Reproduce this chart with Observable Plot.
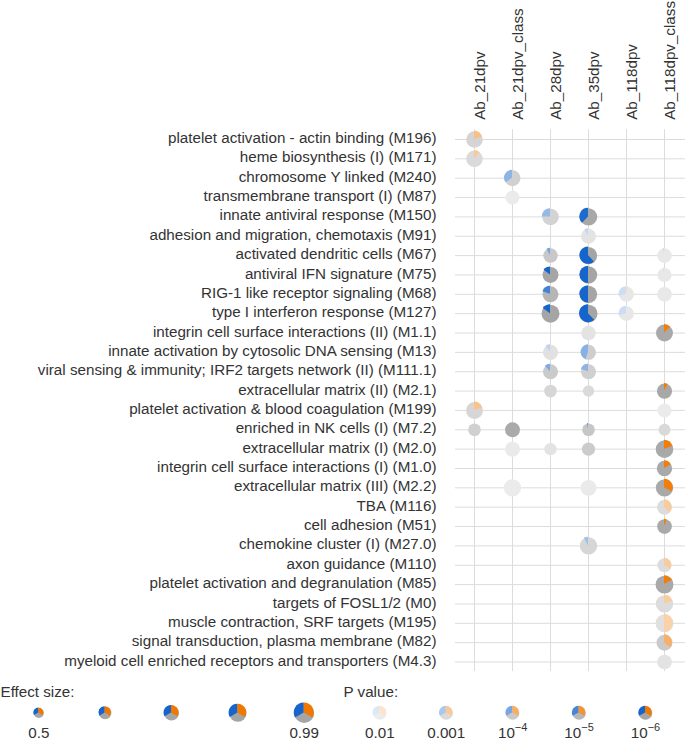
<!DOCTYPE html>
<html><head><meta charset="utf-8">
<script src="https://cdn.jsdelivr.net/npm/d3@7"></script>
<script src="https://cdn.jsdelivr.net/npm/@observablehq/plot@0.6"></script>
<style>
body{margin:0;background:#fff;font-family:"Liberation Sans",Arial,sans-serif;}
#legend{display:flex;flex-direction:row;}
</style></head><body>
<div id="chart"></div>
<div id="legend"></div>
<script>
const moduleIds = ["M196","M171","M240","M87","M150","M91","M67","M75","M68","M127","M1.1","M13","M111.1","M2.1","M199","M7.2","M2.0","M1.0","M2.2","M116","M51","M27.0","M110","M85","M0","M195","M82","M4.3"];
const moduleTitles = [
  "platelet activation - actin binding (M196)",
  "heme biosynthesis (I) (M171)",
  "chromosome Y linked (M240)",
  "transmembrane transport (I) (M87)",
  "innate antiviral response (M150)",
  "adhesion and migration, chemotaxis (M91)",
  "activated dendritic cells (M67)",
  "antiviral IFN signature (M75)",
  "RIG-1 like receptor signaling (M68)",
  "type I interferon response (M127)",
  "integrin cell surface interactions (II) (M1.1)",
  "innate activation by cytosolic DNA sensing (M13)",
  "viral sensing & immunity; IRF2 targets network (II) (M111.1)",
  "extracellular matrix (II) (M2.1)",
  "platelet activation & blood coagulation (M199)",
  "enriched in NK cells (I) (M7.2)",
  "extracellular matrix (I) (M2.0)",
  "integrin cell surface interactions (I) (M1.0)",
  "extracellular matrix (III) (M2.2)",
  "TBA (M116)",
  "cell adhesion (M51)",
  "chemokine cluster (I) (M27.0)",
  "axon guidance (M110)",
  "platelet activation and degranulation (M85)",
  "targets of FOSL1/2 (M0)",
  "muscle contraction, SRF targets (M195)",
  "signal transduction, plasma membrane (M82)",
  "myeloid cell enriched receptors and transporters (M4.3)"
];
const contrasts = ["Ab_21dpv","Ab_21dpv_class","Ab_28dpv","Ab_35dpv","Ab_118dpv","Ab_118dpv_class"];

// one entry per pie
const cellModule = ["M196","M171","M240","M87","M150","M150","M91","M67","M67","M67","M75","M75","M75","M68","M68","M68","M68","M127","M127","M127","M1.1","M1.1","M13","M13","M111.1","M111.1","M2.1","M2.1","M2.1","M199","M199","M7.2","M7.2","M7.2","M7.2","M2.0","M2.0","M2.0","M2.0","M1.0","M2.2","M2.2","M2.2","M116","M51","M27.0","M110","M85","M0","M195","M82","M4.3"];
const cellContrast = ["Ab_21dpv","Ab_21dpv","Ab_21dpv_class","Ab_21dpv_class","Ab_28dpv","Ab_35dpv","Ab_35dpv","Ab_28dpv","Ab_35dpv","Ab_118dpv_class","Ab_28dpv","Ab_35dpv","Ab_118dpv_class","Ab_28dpv","Ab_35dpv","Ab_118dpv","Ab_118dpv_class","Ab_28dpv","Ab_35dpv","Ab_118dpv","Ab_35dpv","Ab_118dpv_class","Ab_28dpv","Ab_35dpv","Ab_28dpv","Ab_35dpv","Ab_28dpv","Ab_35dpv","Ab_118dpv_class","Ab_21dpv","Ab_118dpv_class","Ab_21dpv","Ab_21dpv_class","Ab_35dpv","Ab_118dpv_class","Ab_21dpv_class","Ab_28dpv","Ab_35dpv","Ab_118dpv_class","Ab_118dpv_class","Ab_21dpv_class","Ab_35dpv","Ab_118dpv_class","Ab_118dpv_class","Ab_118dpv_class","Ab_35dpv","Ab_118dpv_class","Ab_118dpv_class","Ab_118dpv_class","Ab_118dpv_class","Ab_118dpv_class","Ab_118dpv_class"];
const cellAUC = [0.82,0.82,0.79,0.70,0.82,0.86,0.745,0.72,0.86,0.73,0.79,0.86,0.70,0.79,0.86,0.745,0.73,0.89,0.89,0.73,0.72,0.84,0.755,0.745,0.745,0.745,0.63,0.57,0.755,0.84,0.70,0.63,0.745,0.63,0.60,0.745,0.62,0.66,0.87,0.765,0.86,0.79,0.86,0.745,0.73,0.86,0.70,0.89,0.86,0.89,0.79,0.73];
const cellP = [4.5e-4,1e-3,2.6e-4,9e-3,4e-4,1.5e-6,3e-3,9e-5,1e-6,6e-3,8e-7,1e-6,6e-3,8e-6,1e-6,5e-3,6e-3,1e-7,1e-6,5e-3,3e-3,1.7e-6,2.5e-3,2e-4,1.2e-4,2.6e-4,6e-4,1e-3,1.5e-6,6e-4,9e-3,2.6e-4,2e-6,7e-5,8e-4,8e-3,3e-3,1.4e-4,1.7e-6,1.7e-6,9e-3,8e-3,1.7e-6,1.3e-3,1.7e-6,6e-4,1.3e-3,1.7e-6,1.3e-3,2e-3,1.2e-4,3e-3];
const cellUp = [0.20,0.12,0,0.03,0,0,0,0,0,0,0,0,0,0,0,0.05,0,0,0,0,0,0.13,0,0,0,0,0,0,0.08,0.20,0,0,0,0,0,0,0,0,0.20,0.17,0,0,0.33,0.38,0.06,0,0.35,0.17,0.20,0.50,0.37,0];
const cellDown = [0,0,0.35,0,0.25,0.38,0.08,0.08,0.62,0.03,0.15,0.5,0.02,0.2,0.5,0.3,0,0.15,0.62,0.3,0,0,0.1,0.45,0.12,0.2,0,0,0,0,0,0,0,0.03,0,0,0,0,0,0,0,0,0,0,0,0.08,0,0,0,0,0,0];

// legend
const effectLegendAUC = [0.5, 0.6225, 0.745, 0.8675, 0.99];
const effectLegendLabels = ["0.5","","","","0.99"];
const pLegendP = [1e-2, 1e-3, 1e-4, 1e-5, 1e-6];
const pLegendLabels = ["0.01","0.001","10^-4","10^-5","10^-6"];
const legendAUC = 0.67;
const legendUp = 1/3, legendDown = 1/3;

const paleColors = {up:"#fce4cb", down:"#dbe8f6", ns:"#ececec"};
const fullColors = {up:"#f07800", down:"#1565cc", ns:"#a5a5a5"};
function shade(kind, p){
  const t = Math.max(0, Math.min(1, (-Math.log10(p) - 2) / 4));
  return d3.interpolateRgb(paleColors[kind], fullColors[kind])(t);
}
const titleOf = Object.fromEntries(moduleIds.map((m,i)=>[m, moduleTitles[i]]));
const cells = cellModule.map((m,i)=>({module:titleOf[m], contrast:cellContrast[i], auc:cellAUC[i], p:cellP[i], up:cellUp[i], down:cellDown[i]}));

const rScale = {type:"linear", domain:[0.5,0.99], range:[5,10]};
const font = "'Liberation Sans', Arial, sans-serif";
const textColor = "#333";
const fs = 15.2;

function pieSlices(data, xKey, yKey){
  return (index, scales) => {
    const g = d3.create("svg:g");
    const arc = d3.arc();
    for (const d of data){
      const cx = scales.x(d[xKey]), cy = scales.y(d[yKey]), r = scales.r(d.auc);
      if (d.down > 0) g.append("path")
        .attr("transform", `translate(${cx},${cy})`)
        .attr("d", arc({innerRadius:0, outerRadius:r, startAngle:-d.down*2*Math.PI, endAngle:0}))
        .attr("fill", shade("down", d.p));
      if (d.up > 0) g.append("path")
        .attr("transform", `translate(${cx},${cy})`)
        .attr("d", arc({innerRadius:0, outerRadius:r, startAngle:0, endAngle:d.up*2*Math.PI}))
        .attr("fill", shade("up", d.p));
    }
    return g.node();
  };
}

const chart = Plot.plot({
  width:685, height:678,
  marginLeft:455, marginRight:2, marginTop:129.3, marginBottom:6.8,
  x:{type:"point", domain:contrasts, padding:0.5, align:0.5, round:false, axis:null},
  y:{type:"point", domain:moduleTitles, padding:0.5, align:0.5, round:false, axis:null},
  r:rScale,
  style:{fontFamily:font, fontSize:fs+"px", color:textColor, background:"#fff"},
  marks:[
    Plot.ruleY(moduleTitles, {y:d=>d, stroke:"#dcdcdc", strokeWidth:1, insetRight:-2}),
    Plot.ruleX(contrasts, {x:d=>d, stroke:"#dcdcdc", strokeWidth:1}),
    Plot.text(moduleTitles, {y:d=>d, text:d=>d, frameAnchor:"left", dx:-19, dy:-1.3, textAnchor:"end", fontSize:fs, fill:textColor}),
    Plot.text(contrasts, {x:d=>d, text:d=>d, frameAnchor:"top", dy:-10, rotate:-90, textAnchor:"start", fontSize:fs, fill:textColor}),
    Plot.dot(cells, {x:"contrast", y:"module", r:"auc", fill:d=>shade("ns", d.p)}),
    pieSlices(cells, "contrast", "module")
  ]
});
document.getElementById("chart").appendChild(chart);

function legendPlot(items, width, range, title, titleDx){
  return Plot.plot({
    width, height:62, margin:0,
    x:{type:"point", domain:items.map(d=>d.key), range, padding:0, align:0.5, round:false, axis:null},
    y:{type:"point", domain:["title","pie","label"], range:[14,55], padding:0, align:0.5, round:false, axis:null},
    r:rScale,
    style:{fontFamily:font, fontSize:fs+"px", color:textColor, background:"#fff"},
    marks:[
      Plot.text([title], {y:()=>"title", text:d=>d, frameAnchor:"left", dx:titleDx, textAnchor:"start", fontSize:fs, fill:textColor}),
      Plot.dot(items, {x:"key", y:()=>"pie", r:"auc", fill:d=>shade("ns", d.p)}),
      pieSlices(items.map(d=>({...d, row:"pie"})), "key", "row"),
      Plot.text(items, {x:"key", y:()=>"label", text:"label", fontSize:fs, fill:textColor})
    ]
  });
}
const effectItems = effectLegendAUC.map((a,i)=>({key:"e"+i, auc:a, p:1e-6, up:legendUp, down:legendDown, label:effectLegendLabels[i]}));
const pItems = pLegendP.map((p,i)=>({key:"p"+i, auc:legendAUC, p, up:legendUp, down:legendDown, label:pLegendLabels[i]}));
const leg1 = legendPlot(effectItems, 340, [38.3,303.7], "Effect size:", 0);
const leg2 = legendPlot(pItems, 345, [39.3,305], "P value:", 3);
for (const svg of [leg1, leg2]){
  svg.querySelectorAll("text").forEach(t=>{
    const s = t.textContent;
    if (s.includes("^")){
      const [base, exp] = s.split("^");
      t.textContent = "";
      const b = document.createElementNS("http://www.w3.org/2000/svg","tspan");
      b.textContent = base;
      const ts = document.createElementNS("http://www.w3.org/2000/svg","tspan");
      ts.setAttribute("dy","-7");
      ts.setAttribute("font-size","11");
      ts.textContent = exp.replace("-","\u2212");
      t.appendChild(b);
      t.appendChild(ts);
    }
  });
  document.getElementById("legend").appendChild(svg);
}
</script>
</body></html>
